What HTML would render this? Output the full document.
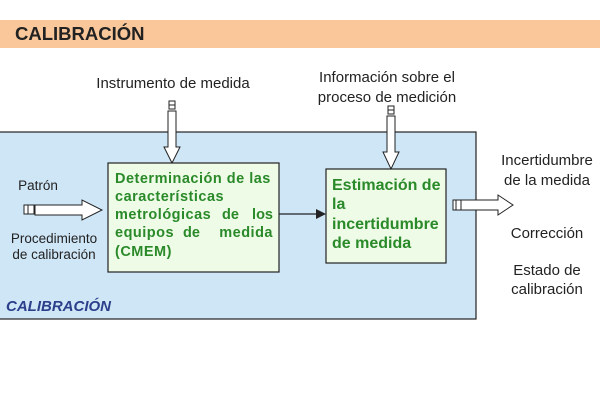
<!DOCTYPE html>
<html><head><style>body{margin:0;background:#fff}svg{display:block}text{font-family:"Liberation Sans",sans-serif}</style></head><body>
<svg width="600" height="400" viewBox="0 0 600 400" xmlns="http://www.w3.org/2000/svg">
<rect x="0" y="20" width="600" height="28" fill="#f9c79a"/>
<text x="15" y="40" font-size="18.5" font-weight="bold" fill="#222">CALIBRACIÓN</text>
<rect x="-1" y="132" width="477" height="187" fill="#cfe6f7" stroke="#222" stroke-width="1.2"/>
<text x="173" y="88" font-size="15" fill="#222" text-anchor="middle">Instrumento de medida</text>
<text x="387" y="82" font-size="15" fill="#222" text-anchor="middle">Información sobre el</text>
<text x="387" y="102" font-size="15" fill="#222" text-anchor="middle">proceso de medición</text>
<rect x="169" y="101" width="6" height="8" fill="#fff" stroke="#222"/>
<line x1="169" y1="105" x2="175" y2="105" stroke="#222"/>
<path d="M168,111 H176 V147 H180 L172,163 L164,147 H168 Z" fill="#fff" stroke="#222"/>
<rect x="388" y="106" width="6" height="8" fill="#fff" stroke="#222"/>
<line x1="388" y1="110" x2="394" y2="110" stroke="#222"/>
<path d="M387,116 H395 V152 H399 L391,169 L383,152 H387 Z" fill="#fff" stroke="#222"/>
<rect x="108" y="163" width="171" height="109" fill="#eefbe6" stroke="#222" stroke-width="1.2"/>
<g font-size="14.5" font-weight="bold" fill="#2a8a2a">
<text x="115" y="183" letter-spacing="0.5">Determinación de las</text>
<text x="115" y="201" letter-spacing="0.5">características</text>
<text x="115" y="219" letter-spacing="0.5">metrológicas</text>
<text x="222" y="219">de</text>
<text x="273" y="219" text-anchor="end">los</text>
<text x="115" y="237" letter-spacing="0.5">equipos</text>
<text x="183" y="237">de</text>
<text x="273" y="237" text-anchor="end" letter-spacing="0.5">medida</text>
<text x="115" y="256" letter-spacing="0.5">(CMEM)</text>
</g>
<rect x="326" y="169" width="120" height="94" fill="#eefbe6" stroke="#222" stroke-width="1.2"/>
<g font-size="16" font-weight="bold" fill="#2a8a2a">
<text x="332" y="190">Estimación de</text>
<text x="332" y="209">la</text>
<text x="332" y="229">incertidumbre</text>
<text x="332" y="248">de medida</text>
</g>
<line x1="279" y1="214" x2="318" y2="214" stroke="#222" stroke-width="1.2"/>
<path d="M316,209 L326,214 L316,219 Z" fill="#222"/>
<text x="38" y="190" font-size="13.5" fill="#222" text-anchor="middle">Patrón</text>
<rect x="24" y="205" width="10" height="9" fill="#fff" stroke="#222"/>
<line x1="28" y1="205" x2="28" y2="214" stroke="#222"/>
<path d="M35,205 H82 V200 L102,210 L82,220 V215 H35 Z" fill="#fff" stroke="#222"/>
<text x="54" y="243" font-size="13.5" fill="#222" text-anchor="middle">Procedimiento</text>
<text x="54" y="259" font-size="13.5" fill="#222" text-anchor="middle">de calibración</text>
<rect x="453" y="200" width="8" height="10" fill="#fff" stroke="#222"/>
<line x1="456" y1="200" x2="456" y2="210" stroke="#222"/>
<path d="M461,200 H498 V195 L513,205 L498,215 V210 H461 Z" fill="#fff" stroke="#222"/>
<g font-size="15" fill="#222" text-anchor="middle">
<text x="547" y="165">Incertidumbre</text>
<text x="547" y="185">de la medida</text>
<text x="547" y="238">Corrección</text>
<text x="547" y="275">Estado de</text>
<text x="547" y="294">calibración</text>
</g>
<text x="6" y="311" font-size="15" font-weight="bold" font-style="italic" fill="#2b3f8a">CALIBRACIÓN</text>
</svg>
</body></html>
